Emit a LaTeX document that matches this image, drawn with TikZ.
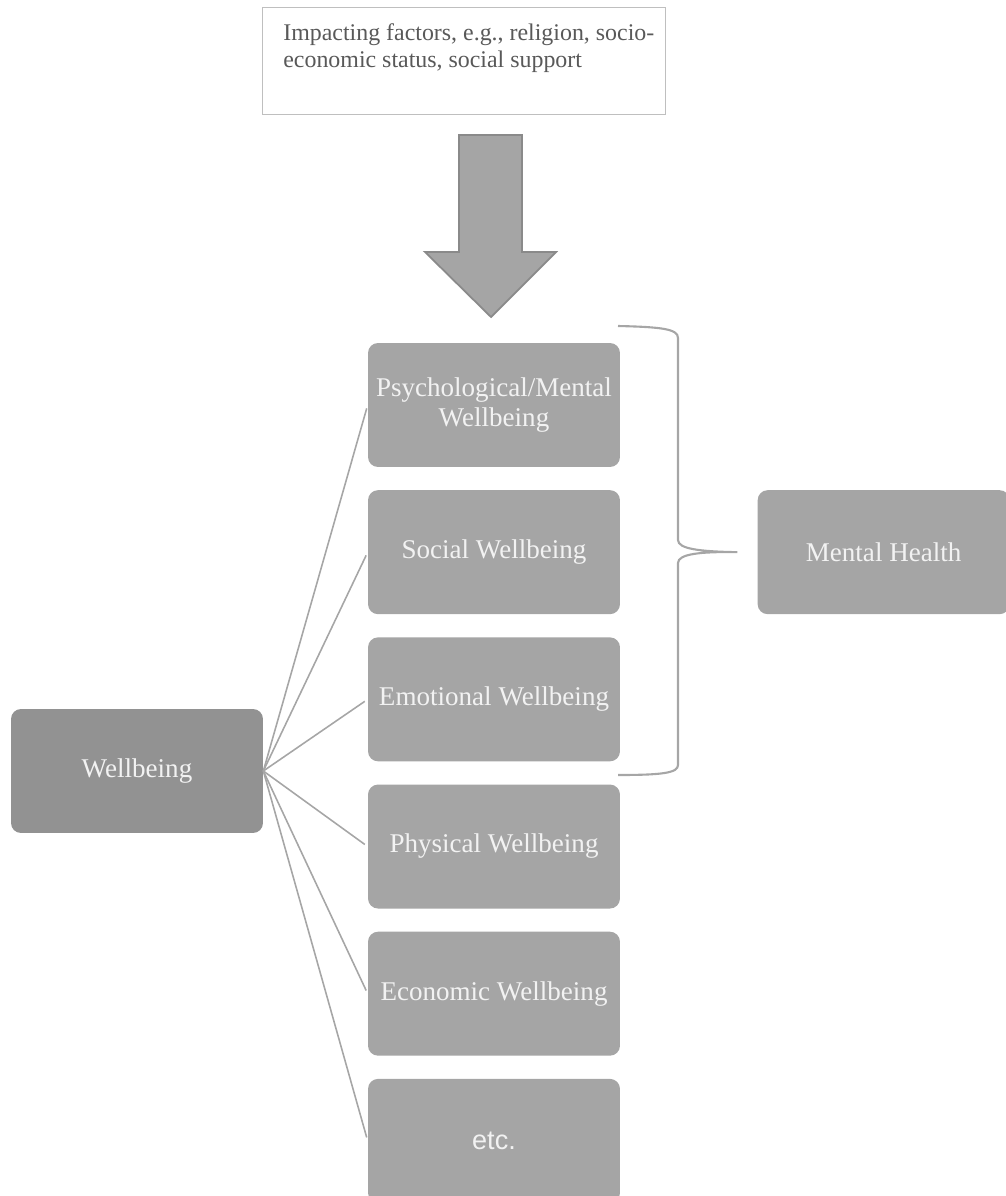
\documentclass[tikz,border=0pt]{standalone}
\usepackage{fontspec}
\setmainfont{Liberation Serif}
\newfontfamily\etcfont{Liberation Sans}
\usepackage{xcolor}
\usepackage{tikz}
\usetikzlibrary{positioning}
\definecolor{boxgray}{HTML}{A5A5A5}
\definecolor{rootgray}{HTML}{929292}
\definecolor{linegray}{HTML}{A6A6A6}
\definecolor{edgegray}{HTML}{8A8A8A}
\definecolor{framegray}{HTML}{BFBFBF}
\definecolor{textgray}{HTML}{595959}
\definecolor{paper}{HTML}{F2F2F2}
\tikzset{
  aspectbox/.style={
    rectangle, rounded corners=0.2cm, fill=#1, draw=none,
    minimum width=5.04cm, minimum height=2.48cm,
    text=paper, font=\fontsize{15.4}{16.6}\selectfont, align=center,
    inner sep=2pt
  },
  aspectbox/.default=boxgray,
  factorbox/.style={
    rectangle, draw=framegray, line width=0.6pt, fill=white,
    minimum width=8.06cm, minimum height=2.14cm, inner sep=0pt
  },
  factortext/.style={
    text=textgray, font=\fontsize{13.6}{15.3}\selectfont,
    align=left, inner sep=0pt
  },
  bigarrow/.style={fill=boxgray, draw=edgegray, line width=1pt, line join=miter},
  branchline/.style={draw=linegray, line width=0.9pt, shorten >=2pt},
  bracepath/.style={draw=linegray, line width=1.2pt},
}

\begin{document}
\begin{tikzpicture}[x=0.02cm, y=-0.02cm, node distance=0.45cm and 0.45cm]
  \useasboundingbox (0,0) rectangle (1006,1196);
  % factors box and arrow
  \node[factorbox, anchor=north west] at (262,7) (factors) {};
  \node[factortext, anchor=north west] at (283,23) (factorstext) {Impacting factors, e.g., religion, socio-\\economic status, social support};
  \draw[bigarrow] (459,135) -- (522,135) -- (522,252) -- (556,252) -- (491,317)
    -- (425,252) -- (459,252) -- cycle;
  % aspects
  \node[aspectbox] at (494,405) (psych) {Psychological/Mental\\Wellbeing};
  \node[aspectbox, below=of psych] (social) {Social Wellbeing};
  \node[aspectbox, below=of social] (emotional) {Emotional Wellbeing};
  \node[aspectbox, below=of emotional] (physical) {Physical Wellbeing};
  \node[aspectbox, below=of physical] (economic) {Economic Wellbeing};
  \node[aspectbox, below=of economic, font=\fontsize{15.4}{16.6}\etcfont] (misc) {etc.};
  \node[aspectbox=rootgray] at (137,771) (wellbeing) {Wellbeing};
  \node[aspectbox, right=2.74cm of social] (mental) {Mental Health};
  \foreach \c in {psych,social,emotional,physical,economic,misc}
    \draw[branchline] (wellbeing.east) -- (\c.west);
  % brace
  \coordinate (bracetop) at (618,326);
  \coordinate (bracebot) at (618,775);
  \coordinate (bracetip) at ([xshift=-0.4cm]mental.west);
  \draw[bracepath] (bracetop) .. controls (662,327) and (678,329) .. (678,338)
    -- (678,540) .. controls (678,549) and (700,551.5) .. (bracetip)
    .. controls (700,551.5) and (678,554) .. (678,563)
    -- (678,765) .. controls (678,773) and (662,775) .. (bracebot);
\end{tikzpicture}
\end{document}
